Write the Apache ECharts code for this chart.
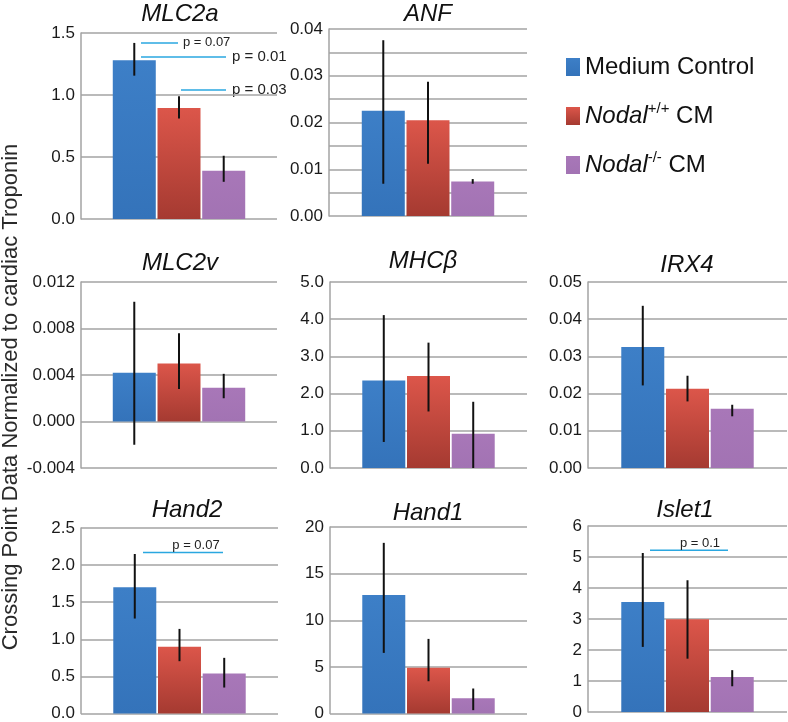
<!DOCTYPE html>
<html>
<head>
<meta charset="utf-8">
<script src="https://cdn.jsdelivr.net/npm/echarts@6/dist/echarts.min.js"></script>
<style>
html,body{margin:0;padding:0;background:#fff;}
#main{width:788px;height:722px;}
</style>
</head>
<body>
<div id="main"></div>
<script>
// ---------- data ----------
const genes = ['MLC2a', 'ANF', 'MLC2v', 'MHCβ', 'IRX4', 'Hand2', 'Hand1', 'Islet1'];
const seriesNames = ['Medium Control', 'Nodal+/+ CM', 'Nodal-/- CM'];

const mediumControl = [1.28, 0.0225, 0.0042, 2.35, 0.0325, 1.70, 12.7, 3.55];
const nodalWT       = [0.895, 0.0205, 0.0050, 2.47, 0.0213, 0.90, 4.9, 2.99];
const nodalKO       = [0.39, 0.0074, 0.0029, 0.92, 0.0159, 0.54, 1.64, 1.13];

const mcLow  = [1.156, 0.0069, -0.0020, 0.70, 0.0222, 1.28, 6.5, 2.10];
const mcHigh = [1.42, 0.0376, 0.0103, 4.11, 0.0436, 2.15, 18.3, 5.13];
const wtLow  = [0.81, 0.0112, 0.0028, 1.52, 0.0179, 0.705, 3.46, 1.72];
const wtHigh = [0.99, 0.0287, 0.0076, 3.37, 0.0248, 1.14, 8.0, 4.25];
const koLow  = [0.30, 0.0069, 0.0020, 0.0, 0.0139, 0.35, 0.36, 0.83];
const koHigh = [0.51, 0.0079, 0.0041, 1.78, 0.0170, 0.75, 2.68, 1.35];

// y-axis ticks
const yMin      = [0, 0, -0.004, 0, 0, 0, 0, 0];
const yMax      = [1.5, 0.04, 0.012, 5, 0.05, 2.5, 20, 6];
const yInterval = [0.5, 0.005, 0.004, 1, 0.01, 0.5, 5, 1];
const yDecimals = [1, 2, 3, 1, 2, 1, 0, 0];
const yLabelEvery = [1, 2, 1, 1, 1, 1, 1, 1];

// significance annotations: gene index, y value, label
const sigGene  = [0, 0, 0, 5, 7];
const sigValue = [1.42, 1.306, 1.04, 2.17, 5.22];
const sigLabel = ['p = 0.07', 'p = 0.01', 'p = 0.03', 'p = 0.07', 'p = 0.1'];

// ---------- layout / style ----------
const FONT = "'Liberation Sans', Arial, sans-serif";
const grids = [
  {left: 81,  top: 33,  width: 196, height: 186},
  {left: 329, top: 29,  width: 198, height: 187},
  {left: 81,  top: 282, width: 196, height: 186},
  {left: 330, top: 282, width: 197, height: 186},
  {left: 588, top: 282, width: 199, height: 186},
  {left: 81,  top: 528, width: 197, height: 186},
  {left: 330, top: 527, width: 197, height: 187},
  {left: 588, top: 526, width: 199, height: 186}
];
const titlePos = [[180, 14], [428, 14], [180, 263], [423, 261], [687, 265], [187, 510], [428, 513], [685, 510]];
const sigLine = [[141, 178], [141, 226], [181, 226], [143, 223], [650, 728]];
const sigText = [
  {x: 183, align: 'left', size: 13, above: false},
  {x: 232, align: 'left', size: 15, above: false},
  {x: 232, align: 'left', size: 15, above: false},
  {x: 196, align: 'center', size: 13, above: true},
  {x: 700, align: 'center', size: 13, above: true}
];
const BAR_W = 43;
const GAP = 0.04;
const STEP = BAR_W * (1 + GAP);
const gridColor = '#a3a3a3';
const colors = [
  new echarts.graphic.LinearGradient(0, 0, 0, 1, [{offset: 0, color: '#3d7fc7'}, {offset: 1, color: '#3473ba'}]),
  new echarts.graphic.LinearGradient(0, 0, 0, 1, [{offset: 0, color: '#dc564a'}, {offset: 1, color: '#a53a31'}]),
  new echarts.graphic.LinearGradient(0, 0, 0, 1, [{offset: 0, color: '#a877b8'}, {offset: 1, color: '#a273b3'}])
];

const values = [mediumControl, nodalWT, nodalKO];
const lows = [mcLow, wtLow, koLow];
const highs = [mcHigh, wtHigh, koHigh];

const chart = echarts.init(document.getElementById('main'));

const xAxes = [], yAxes = [], series = [];
genes.forEach((g, i) => {
  xAxes.push({
    type: 'category', gridIndex: i, data: [''],
    axisLine: {show: false}, axisTick: {show: false}, axisLabel: {show: false}, splitLine: {show: false}
  });
  yAxes.push({
    type: 'value', gridIndex: i, min: yMin[i], max: yMax[i], interval: yInterval[i],
    axisLine: {show: true, lineStyle: {color: gridColor, width: 1.5}},
    axisTick: {show: false},
    splitLine: {show: true, lineStyle: {color: gridColor, width: 1.5}},
    axisLabel: {
      margin: 6, fontSize: 17, color: '#1a1a1a', fontFamily: FONT,
      formatter: (v) => {
        const k = Math.round((v - yMin[i]) / yInterval[i]);
        if (k % yLabelEvery[i] !== 0) return '';
        return v.toFixed(yDecimals[i]);
      }
    }
  });
  for (let b = 0; b < 3; b++) {
    series.push({
      type: 'bar', name: seriesNames[b], xAxisIndex: i, yAxisIndex: i,
      data: [values[b][i]], barWidth: BAR_W, barGap: (GAP * 100) + '%',
      itemStyle: {color: colors[b]}, silent: true, animation: false
    });
  }
  series.push({
    type: 'custom', name: 'error-' + g, xAxisIndex: i, yAxisIndex: i, z: 10,
    silent: true, animation: false,
    encode: {x: 0, y: [1, 2]},
    data: [0, 1, 2].map(b => [0, lows[b][i], highs[b][i], b]),
    renderItem: (params, api) => {
      const lo = api.coord([api.value(0), api.value(1)]);
      const hi = api.coord([api.value(0), api.value(2)]);
      const x = lo[0] + (api.value(3) - 1) * STEP;
      return {type: 'line', shape: {x1: x, y1: lo[1], x2: x, y2: hi[1]},
              style: {stroke: '#111', lineWidth: 2}};
    }
  });
});

const graphics = [];
genes.forEach((g, i) => {
  graphics.push({
    type: 'text', x: titlePos[i][0], y: titlePos[i][1], silent: true,
    style: {text: g, font: 'italic 24px ' + FONT, fill: '#111', textAlign: 'center', textVerticalAlign: 'middle'}
  });
});
graphics.push({
  type: 'text', x: 11, y: 397, rotation: Math.PI / 2, silent: true,
  style: {text: 'Crossing Point Data Normalized to cardiac Troponin', font: '22px ' + FONT,
          fill: '#2a2a2a', textAlign: 'center', textVerticalAlign: 'middle'}
});

chart.setOption({
  animation: false,
  grid: grids,
  xAxis: xAxes,
  yAxis: yAxes,
  series: series,
  legend: {
    data: seriesNames, orient: 'vertical', left: 566, top: 55, padding: 0,
    icon: 'rect', itemWidth: 14, itemHeight: 18, itemGap: 22, selectedMode: false,
    formatter: (name) => {
      if (name === 'Medium Control') return '{n|Medium Control}';
      if (name === 'Nodal+/+ CM') return '{i|Nodal}{s|+/+}{n| CM}';
      return '{i|Nodal}{s|-/-}{n| CM}';
    },
    textStyle: {
      rich: {
        n: {fontSize: 24, fontFamily: FONT, color: '#111', lineHeight: 30},
        i: {fontSize: 24, fontFamily: FONT, fontStyle: 'italic', color: '#111', lineHeight: 30},
        s: {fontSize: 15, fontFamily: FONT, color: '#111', lineHeight: 16, verticalAlign: 'top'}
      }
    }
  },
  graphic: graphics
});

// significance annotations placed with the axis scale
const extra = [];
sigValue.forEach((v, k) => {
  const y = chart.convertToPixel({yAxisIndex: sigGene[k]}, v);
  extra.push({
    type: 'line', silent: true,
    shape: {x1: sigLine[k][0], y1: y, x2: sigLine[k][1], y2: y},
    style: {stroke: '#2aa7e0', lineWidth: 1.5}
  });
  const t = sigText[k];
  extra.push({
    type: 'text', silent: true, x: t.x, y: t.above ? y - 7 : y,
    style: {text: sigLabel[k], font: t.size + 'px ' + FONT, fill: '#222',
            textAlign: t.align, textVerticalAlign: 'middle'}
  });
});
chart.setOption({graphic: graphics.concat(extra)});
</script>
</body>
</html>
